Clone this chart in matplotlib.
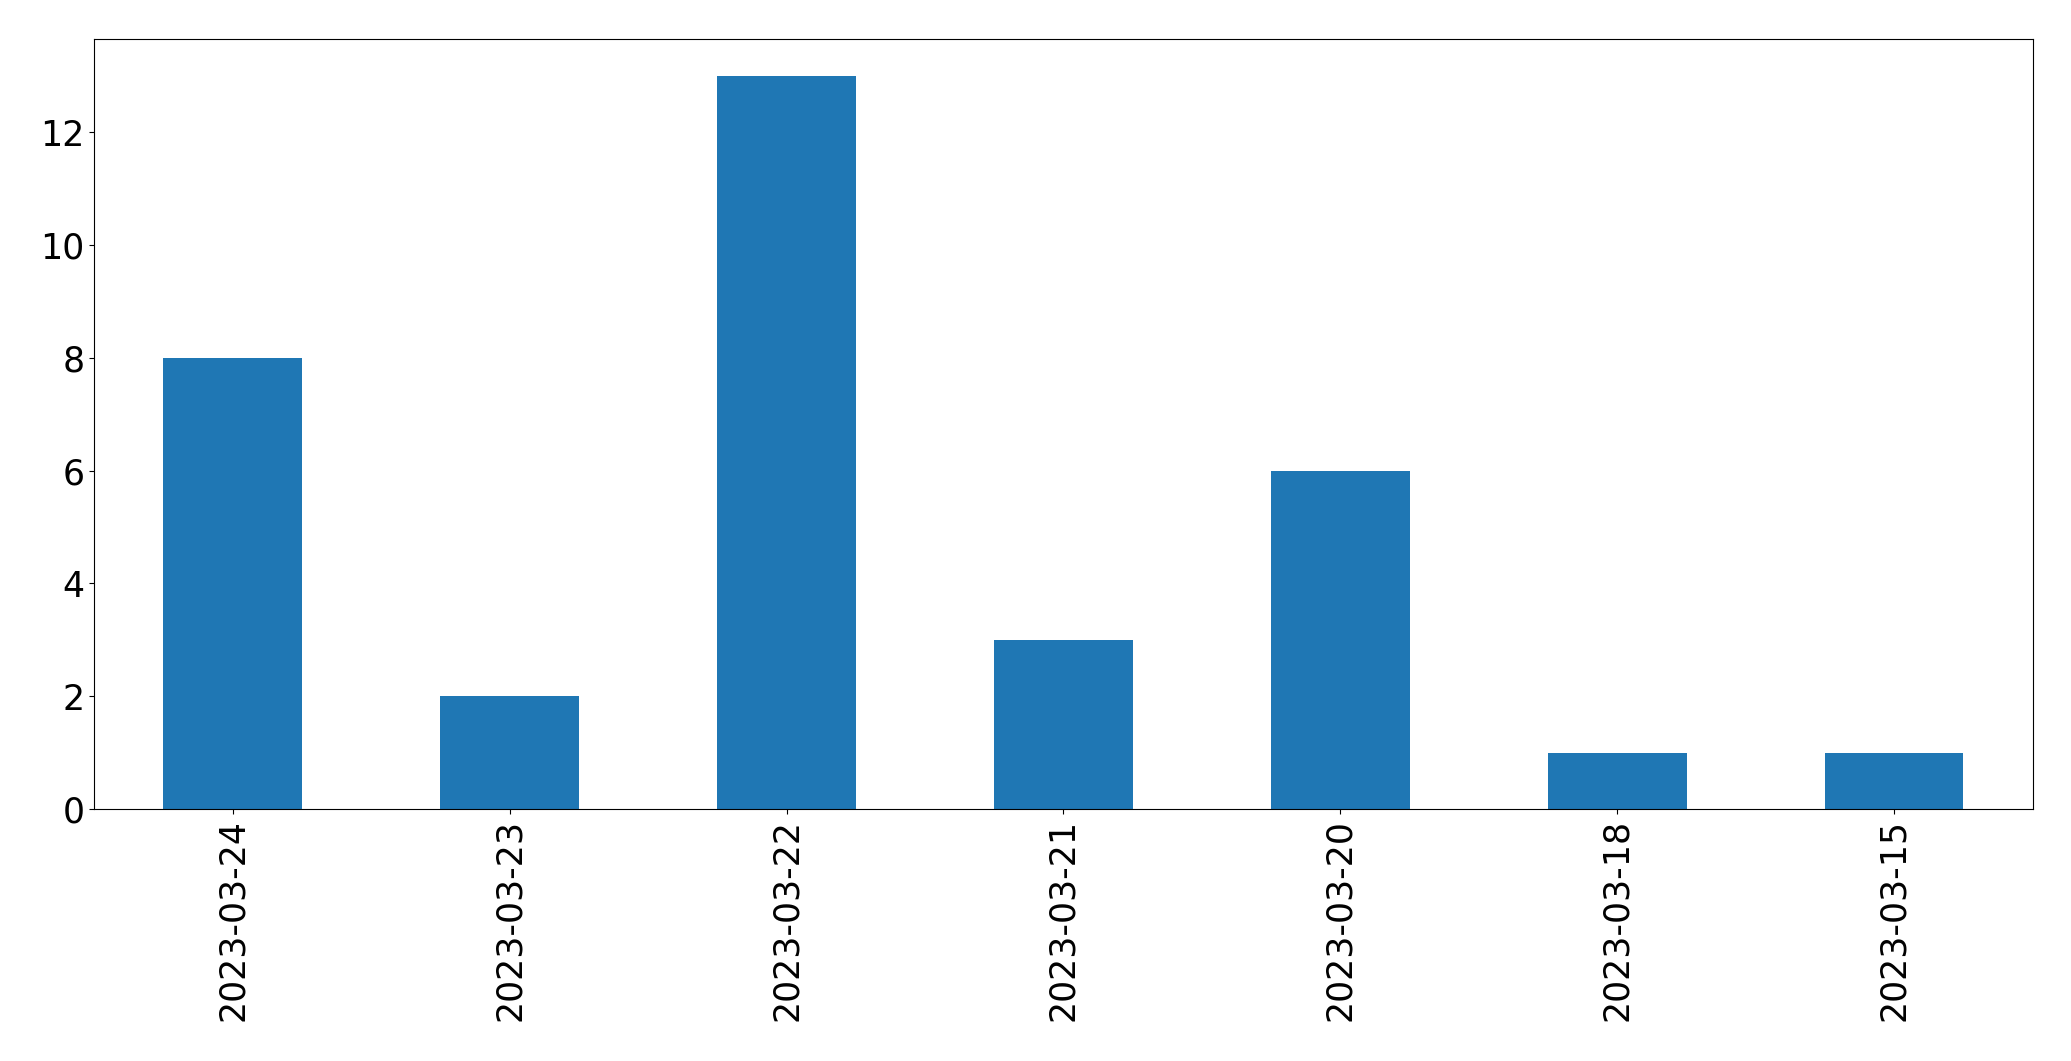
import matplotlib
matplotlib.use("Agg")
import matplotlib.pyplot as plt

dates = ["2023-03-24", "2023-03-23", "2023-03-22", "2023-03-21", "2023-03-20", "2023-03-18", "2023-03-15"]
counts = [8, 2, 13, 3, 6, 1, 1]

fig, ax = plt.subplots(figsize=(20.71, 10.61), dpi=100)
x = list(range(len(dates)))
ax.bar(x, counts, width=0.5, color="#1f77b4")
ax.set_xlim(-0.5, len(dates) - 0.5)
ax.set_xticks(x)
ax.set_xticklabels(dates, rotation=90)
ax.tick_params(labelsize=25)
fig.subplots_adjust(left=0.0455, right=0.9815, top=0.963, bottom=0.2375)
fig.savefig("out.png", dpi=100)
